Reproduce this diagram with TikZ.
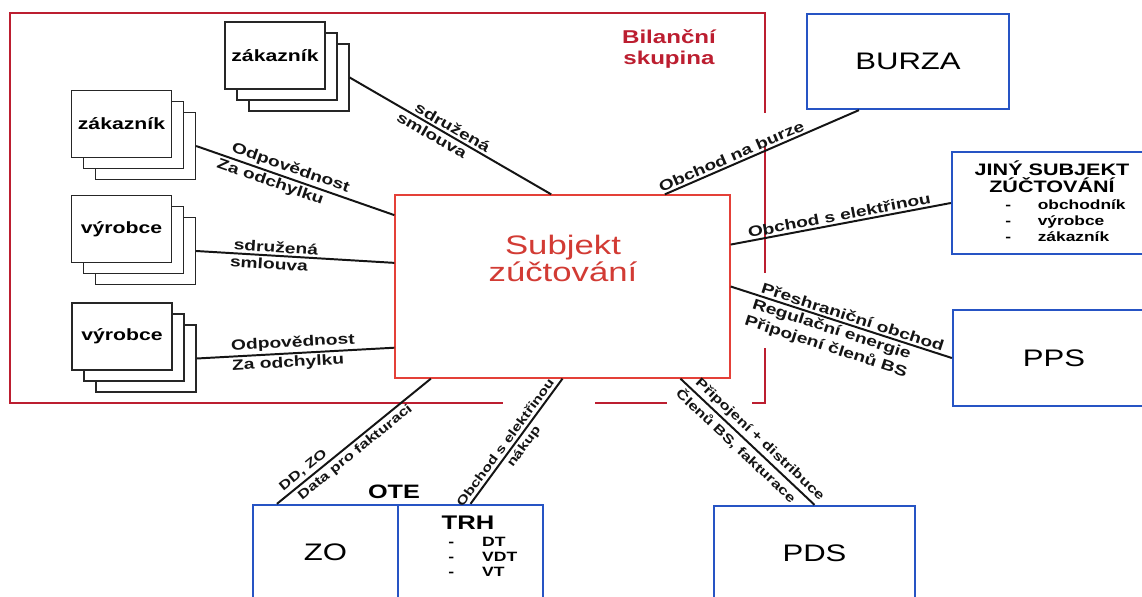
\documentclass[tikz,border=0pt]{standalone}
\usepackage{fontspec}
\setmainfont{Liberation Sans}[FakeStretch=1.3]
\usetikzlibrary{calc,positioning}
\definecolor{FrameRed}{RGB}{188,30,48}
\definecolor{SubjRed}{RGB}{228,64,56}
\definecolor{BoxBlue}{RGB}{38,84,196}

\tikzset{
  frame/.style={FrameRed,line width=1.7pt},
  card/.style={draw=black!85,line width=0.9pt,fill=white,
    minimum width=2.5cm,minimum height=1.675cm,
    font=\fontsize{11.6}{14}\selectfont\bfseries},
  bluebox/.style={draw=BoxBlue,line width=1.6pt,
    font=\fontsize{17}{20}\selectfont},
  link/.style={line width=1.4pt,black!92},
  lbl/.style={sloped,inner sep=1.5pt,align=center,
    font=\fontsize{10.5}{13}\selectfont\bfseries},
  lblsm/.style={lbl,inner sep=2pt,font=\fontsize{9.2}{11}\selectfont\bfseries},
  items/.style={anchor=west,inner sep=0pt,align=left,
    font=\fontsize{9.6}{10.9}\selectfont\bfseries},
}

\begin{document}
\begin{tikzpicture}[x=0.025cm,y=-0.025cm]
  \useasboundingbox (0,0) rectangle (1142,597);
  \clip (0,0) rectangle (1142,597);
  \fill[white] (0,0) rectangle (1142,597);

  % Bilancni skupina frame
  \draw[frame] (765,113) -- (765,13) -- (10,13) -- (10,403) -- (503,403);
  \draw[frame] (595,403) -- (667,403);
  \draw[frame] (752,403) -- (765,403) -- (765,348);
  \draw[frame] (765,147) -- (765,273);
  \node[text=FrameRed,align=center,font=\fontsize{13.2}{14.5}\selectfont\bfseries]
    (bsk) at (669,49) {Bilanční\\skupina};

  % centre
  \node[draw=SubjRed,line width=0.9pt,fill=white,
    minimum width=8.375cm,minimum height=4.575cm] (subj) at (562.5,286.5) {};
  \node[text=SubjRed!92!black,align=center,font=\fontsize{19}{19.2}\selectfont]
    (subjtxt) at (563,258) {Subjekt\\zúčtování};

  % stacked cards
  \foreach \nm/\px/\py/\txt in {zak1/275/55.5/zákazník,zak2/121.5/124/zákazník,
      vyr1/121.5/229/výrobce,vyr2/122/336.5/výrobce}{
    \node[card] (\nm c) at (\px+24,\py+22) {};
    \node[card] (\nm b) at (\px+12,\py+11) {};
    \node[card] (\nm) at (\px,\py) {\txt};
  }

  % partners
  \node[bluebox,minimum width=5.05cm,minimum height=2.375cm] (burza) at (908,61.5) {BURZA};
  \node[bluebox,minimum width=5.2cm,minimum height=2.55cm] (jiny) at (1056,203) {};
  \node[align=center,font=\fontsize{11.8}{12.4}\selectfont\bfseries]
    (jinyhead) at (1052,177) {JINÝ SUBJEKT\\ZÚČTOVÁNÍ};
  \node[items,font=\fontsize{9.5}{11.3}\selectfont\bfseries] (jinylist) at (1005,221)
    {-\hspace{19pt}obchodník\\-\hspace{19pt}výrobce\\-\hspace{19pt}zákazník};
  \node[bluebox,minimum width=5.05cm,minimum height=2.4cm] (pps) at (1054,358) {PPS};
  \node[bluebox,minimum width=5.025cm,minimum height=2.35cm] (pds) at (814.5,553) {PDS};
  \node[bluebox,minimum width=3.625cm,minimum height=2.375cm] (zo) at (325.5,552.5) {ZO};
  \node[bluebox,minimum width=3.625cm,minimum height=2.375cm] (trh) at (470.5,552.5) {};
  \node[font=\fontsize{14}{16}\selectfont\bfseries] (trhhead) at (468,523) {TRH};
  \node[items] (trhlist) at (448,557) {-\hspace{20pt}DT\\-\hspace{20pt}VDT\\-\hspace{20pt}VT};
  \node[font=\fontsize{13.8}{16}\selectfont\bfseries] (ote) at (394,492) {OTE};

  % links
  \draw[link] (zak1c.east) -- (subj.97.8)
    node[lbl,above,pos=0.49] {sdružená} node[lbl,below,pos=0.43] {smlouva};
  \draw[link] (zak2c.east) -- (subj.157.2)
    node[lbl,above,pos=0.46] {Odpovědnost} node[lbl,below,pos=0.39] {Za odchylku};
  \draw[link] (vyr1c.east) -- (subj.172)
    node[lbl,above,pos=0.40] {sdružená} node[lbl,below,pos=0.37] {smlouva};
  \draw[link] (vyr2c.east) -- (subj.200.8)
    node[lbl,above,pos=0.49] {Odpovědnost} node[lbl,below,pos=0.46] {Za odchylku};
  \draw[link] (subj.42.6) -- ($(burza.south west)!0.26!(burza.south east)$)
    node[lbl,above,pos=0.36] {Obchod na burze};
  \draw[link] (subj.14.6) -- (jiny.west)
    node[lbl,above,pos=0.5] {Obchod s elektřinou};
  \draw[link] (subj.-0.5) -- (pps.west)
    node[lbl,above,pos=0.54] {Přeshraniční obchod}
    node[lbl,below,pos=0.47] {Regulační energie\\Připojení členů BS};
  \draw[link] ($(zo.north west)!0.17!(zo.north east)$) -- (subj.215.5)
    node[lblsm,above,pos=0.21] {DD, ZO} node[lblsm,below,pos=0.47] {Data pro fakturaci};
  \draw[link] (trh.north) -- (subj.270)
    node[lblsm,above,pos=0.45,font=\fontsize{8.8}{11}\selectfont\bfseries] {Obchod s elektřinou}
    node[lblsm,below,pos=0.5,font=\fontsize{8.8}{11}\selectfont\bfseries] {nákup};
  \draw[link] (subj.322.8) -- (pds.north)
    node[lblsm,above,pos=0.54] {Připojení + distribuce}
    node[lblsm,below,pos=0.47] {Členů BS, fakturace};
\end{tikzpicture}
\end{document}
